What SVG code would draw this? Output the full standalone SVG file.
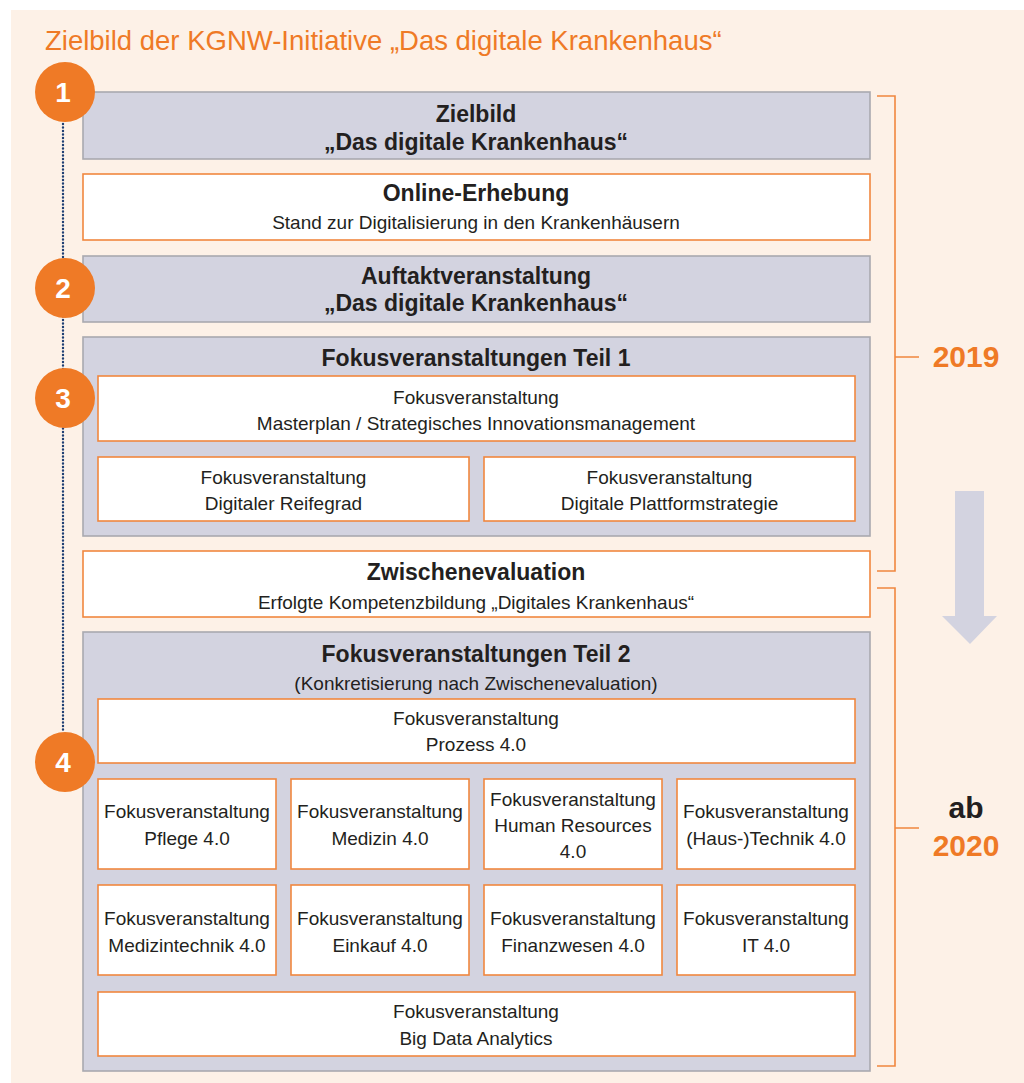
<svg xmlns="http://www.w3.org/2000/svg" width="1024" height="1083" viewBox="0 0 1024 1083">
<style>
.t{font-family:"Liberation Sans",Arial,sans-serif;fill:#231f20;text-anchor:middle}
.r{font-size:19px}
.b{font-size:23px;font-weight:bold}
.g{fill:#d3d3e0;stroke:#a9a9af;stroke-width:1.6}
.w{fill:#fff;stroke:#f0873f;stroke-width:1.6}
.br{fill:none;stroke:#f0873f;stroke-width:1.6}
.num{font-family:"Liberation Sans",Arial,sans-serif;font-weight:bold;font-size:28px;fill:#fff;text-anchor:middle}
.c{fill:#ef7a26}
.yr{font-family:"Liberation Sans",Arial,sans-serif;font-weight:bold;font-size:30px;fill:#ef7a26;text-anchor:middle}
</style>
<rect x="11" y="10" width="1013" height="1073" fill="#fdf1e7"/>
<text x="45" y="50" font-family="'Liberation Sans',Arial,sans-serif" font-size="27.5" fill="#ef7a26">Zielbild der KGNW-Initiative „Das digitale Krankenhaus“</text>

<g id="connectors">
<line x1="63" y1="124" x2="63" y2="732" stroke="#1f3f73" stroke-width="2.4" stroke-dasharray="0.1 3.4" stroke-linecap="round"/>
<path class="br" d="M877 96H895V571H877M895 357H919"/>
<path class="br" d="M877 588H895V1066H877M895 828H919"/>
<path d="M955 491H984V616H997L970 644L942 616H955Z" fill="#d3d3e0"/>
</g>

<g id="n-zielbild">
<rect class="g" x="83" y="92" width="787" height="67"/>
<text class="t b" x="476" y="122">Zielbild</text>
<text class="t b" x="476" y="150">„Das digitale Krankenhaus“</text>
</g>
<g id="n-online">
<rect class="w" x="83" y="174" width="787" height="66"/>
<text class="t b" x="476" y="201">Online-Erhebung</text>
<text class="t r" x="476" y="229">Stand zur Digitalisierung in den Krankenhäusern</text>
</g>
<g id="n-auftakt">
<rect class="g" x="83" y="256" width="787" height="66"/>
<text class="t b" x="476" y="284">Auftaktveranstaltung</text>
<text class="t b" x="476" y="311">„Das digitale Krankenhaus“</text>
</g>
<g id="n-teil1">
<rect class="g" x="83" y="337" width="787" height="199"/>
<text class="t b" x="476" y="366">Fokusveranstaltungen Teil 1</text>
</g>
<g id="n-masterplan">
<rect class="w" x="98" y="376" width="757" height="65"/>
<text class="t r" x="476" y="404">Fokusveranstaltung</text>
<text class="t r" x="476" y="430">Masterplan / Strategisches Innovationsmanagement</text>
</g>
<g id="n-reifegrad">
<rect class="w" x="98" y="457" width="371" height="64"/>
<text class="t r" x="283.5" y="484">Fokusveranstaltung</text>
<text class="t r" x="283.5" y="510">Digitaler Reifegrad</text>
</g>
<g id="n-plattform">
<rect class="w" x="484" y="457" width="371" height="64"/>
<text class="t r" x="669.5" y="484">Fokusveranstaltung</text>
<text class="t r" x="669.5" y="510">Digitale Plattformstrategie</text>
</g>
<g id="n-zwischen">
<rect class="w" x="83" y="551" width="787" height="66"/>
<text class="t b" x="476" y="580">Zwischenevaluation</text>
<text class="t r" x="476" y="609">Erfolgte Kompetenzbildung „Digitales Krankenhaus“</text>
</g>
<g id="n-teil2">
<rect class="g" x="83" y="632" width="787" height="439"/>
<text class="t b" x="476" y="662">Fokusveranstaltungen Teil 2</text>
<text class="t r" x="476" y="690">(Konkretisierung nach Zwischenevaluation)</text>
</g>
<g id="n-prozess">
<rect class="w" x="98" y="699" width="757" height="64"/>
<text class="t r" x="476" y="725">Fokusveranstaltung</text>
<text class="t r" x="476" y="751">Prozess 4.0</text>
</g>
<g id="n-pflege">
<rect class="w" x="98" y="779" width="178" height="90"/>
<text class="t r" x="187" y="818">Fokusveranstaltung</text>
<text class="t r" x="187" y="845">Pflege 4.0</text>
</g>
<g id="n-medizin">
<rect class="w" x="291" y="779" width="178" height="90"/>
<text class="t r" x="380" y="818">Fokusveranstaltung</text>
<text class="t r" x="380" y="845">Medizin 4.0</text>
</g>
<g id="n-hr">
<rect class="w" x="484" y="779" width="178" height="90"/>
<text class="t r" x="573" y="806">Fokusveranstaltung</text>
<text class="t r" x="573" y="832">Human Resources</text>
<text class="t r" x="573" y="858">4.0</text>
</g>
<g id="n-technik">
<rect class="w" x="677" y="779" width="178" height="90"/>
<text class="t r" x="766" y="818">Fokusveranstaltung</text>
<text class="t r" x="766" y="845">(Haus-)Technik 4.0</text>
</g>
<g id="n-medtech">
<rect class="w" x="98" y="885" width="178" height="90"/>
<text class="t r" x="187" y="925">Fokusveranstaltung</text>
<text class="t r" x="187" y="952">Medizintechnik 4.0</text>
</g>
<g id="n-einkauf">
<rect class="w" x="291" y="885" width="178" height="90"/>
<text class="t r" x="380" y="925">Fokusveranstaltung</text>
<text class="t r" x="380" y="952">Einkauf 4.0</text>
</g>
<g id="n-finanz">
<rect class="w" x="484" y="885" width="178" height="90"/>
<text class="t r" x="573" y="925">Fokusveranstaltung</text>
<text class="t r" x="573" y="952">Finanzwesen 4.0</text>
</g>
<g id="n-it">
<rect class="w" x="677" y="885" width="178" height="90"/>
<text class="t r" x="766" y="925">Fokusveranstaltung</text>
<text class="t r" x="766" y="952">IT 4.0</text>
</g>
<g id="n-bigdata">
<rect class="w" x="98" y="992" width="757" height="64"/>
<text class="t r" x="476" y="1018">Fokusveranstaltung</text>
<text class="t r" x="476" y="1045">Big Data Analytics</text>
</g>

<g id="n-step1"><circle class="c" cx="65" cy="92" r="30"/><text class="num" x="63" y="102">1</text></g>
<g id="n-step2"><circle class="c" cx="65" cy="288" r="30"/><text class="num" x="63" y="298">2</text></g>
<g id="n-step3"><circle class="c" cx="65" cy="398" r="30"/><text class="num" x="63" y="408">3</text></g>
<g id="n-step4"><circle class="c" cx="65" cy="762" r="30"/><text class="num" x="63" y="772">4</text></g>

<g id="n-2019"><text class="yr" x="966" y="367">2019</text></g>
<g id="n-2020">
<text class="yr" x="966" y="818" style="fill:#231f20">ab</text>
<text class="yr" x="966" y="856">2020</text>
</g>
</svg>
